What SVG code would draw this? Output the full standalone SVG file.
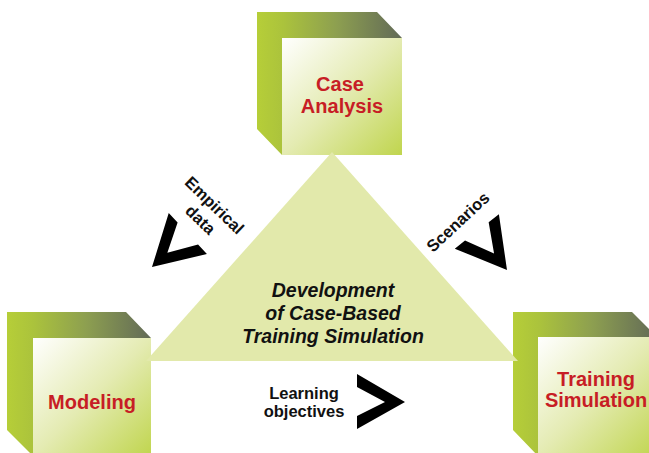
<svg xmlns="http://www.w3.org/2000/svg" width="649" height="453" viewBox="0 0 649 453">
  <defs>
    <linearGradient id="backGrad" x1="0" y1="0" x2="1" y2="0">
      <stop offset="0" stop-color="#b6ce38"/>
      <stop offset="0.18" stop-color="#abc33c"/>
      <stop offset="0.55" stop-color="#8d9f50"/>
      <stop offset="1" stop-color="#626a57"/>
    </linearGradient>
    <linearGradient id="frontGrad" x1="0" y1="0" x2="1" y2="1">
      <stop offset="0" stop-color="#ffffff"/>
      <stop offset="0.5" stop-color="#e4ebb2"/>
      <stop offset="1" stop-color="#c0d54e"/>
    </linearGradient>
    <style>
      .back { fill: url(#backGrad); }
      .front { fill: url(#frontGrad); }
      .tri { fill: #e2e9ab; }
      .red { font-family: "Liberation Sans", Arial, sans-serif; font-weight: bold; font-size: 20px; fill: #c71d25; text-anchor: middle; }
      .title { font-family: "Liberation Sans", Arial, sans-serif; font-weight: bold; font-style: italic; font-size: 19.5px; fill: #111; text-anchor: middle; }
      .lbl { font-family: "Liberation Sans", Arial, sans-serif; font-weight: bold; font-size: 16.5px; fill: #111; text-anchor: middle; }
      .chev { fill: #000; }
    </style>
  </defs>

  <g id="case-analysis">
    <polygon class="back" points="257,12 377,12 402,38 282,38 282,155 257,129"/>
    <rect class="front" x="282" y="38" width="120" height="117"/>
    <text class="red" x="340" y="91">Case</text>
    <text class="red" x="342" y="113">Analysis</text>
  </g>

  <g id="modeling">
    <polygon class="back" points="7,312 126,312 151,338 33,338 33,456 7,430"/>
    <rect class="front" x="33" y="338" width="118" height="118"/>
    <text class="red" x="92" y="409">Modeling</text>
  </g>

  <g id="training-simulation">
    <polygon class="back" points="513,312 632,312 657,337 538,337 538,456 513,430"/>
    <rect class="front" x="538" y="337" width="119" height="119"/>
    <text class="red" x="596" y="386">Training</text>
    <text class="red" x="596" y="407">Simulation</text>
  </g>

  <g id="development">
    <polygon class="tri" points="332,152 518,361 146,361"/>
    <text class="title" x="333" y="297">Development</text>
    <text class="title" x="333" y="320">of Case-Based</text>
    <text class="title" x="333" y="343">Training Simulation</text>
  </g>

  <g id="connectors">
    <g id="edge-empirical">
      <polygon class="chev" transform="translate(152,267) rotate(137)" points="0,0 -49,-28 -49,-15 -21,0 -49,15 -49,28"/>
      <g transform="translate(207,213) rotate(44)">
        <text class="lbl" x="0" y="-5">Empirical</text>
        <text class="lbl" x="0" y="15">data</text>
      </g>
    </g>
    <g id="edge-scenarios">
      <polygon class="chev" transform="translate(507,270) rotate(52)" points="0,0 -49,-28 -49,-15 -21,0 -49,15 -49,28"/>
      <g transform="translate(458,222) rotate(-43)">
        <text class="lbl" x="0" y="5.5">Scenarios</text>
      </g>
    </g>
    <g id="edge-learning">
      <polygon class="chev" points="357,374 405,402 357,429 357,416 385,402 357,387"/>
      <text class="lbl" x="304" y="399">Learning</text>
      <text class="lbl" x="304" y="417">objectives</text>
    </g>
  </g>
</svg>
